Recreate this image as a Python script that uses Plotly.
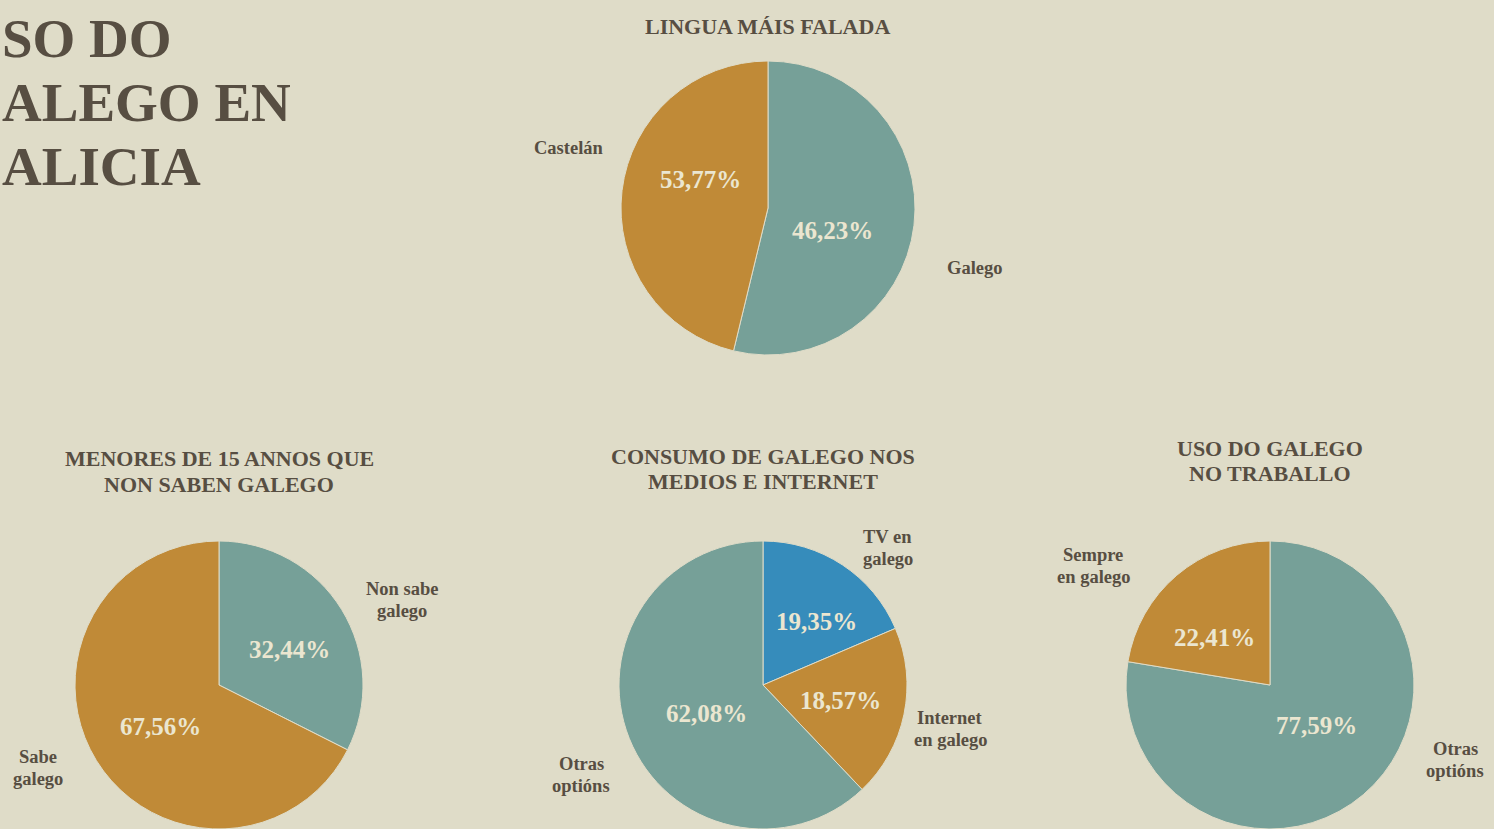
import plotly.graph_objects as go

W, H = 1494, 829
BG = "#dfdcc8"
TEAL = "#76a098"
GOLD = "#c08a37"
BLUE = "#368cbb"
INK = "#574e42"
LIGHT = "#ebe6d0"
FONT = "Liberation Serif"

# ---- data ----
main_title = ["SO DO", "ALEGO EN", "ALICIA"]

lingua_title = ["LINGUA MÁIS FALADA"]
lingua_labels = ["Galego", "Castelán"]
lingua_values = [53.77, 46.23]          # slice sizes as drawn
lingua_text = ["46,23%", "53,77%"]      # percentages as printed

menores_title = ["MENORES DE 15 ANNOS QUE", "NON SABEN GALEGO"]
menores_labels = ["Non sabe<br>galego", "Sabe<br>galego"]
menores_values = [32.44, 67.56]
menores_text = ["32,44%", "67,56%"]

consumo_title = ["CONSUMO DE GALEGO NOS", "MEDIOS E INTERNET"]
consumo_labels = ["TV en<br>galego", "Internet<br>en galego", "Otras<br>optións"]
consumo_values = [18.57, 19.35, 62.08]
consumo_text = ["19,35%", "18,57%", "62,08%"]

traballo_title = ["USO DO GALEGO", "NO TRABALLO"]
traballo_labels = ["Otras<br>optións", "Sempre<br>en galego"]
traballo_values = [77.59, 22.41]
traballo_text = ["77,59%", "22,41%"]

# ---- layout helpers (pixel geometry) ----
def px(x):
    return x / W

def py(y):
    return 1 - y / H

pies = [
    dict(labels=lingua_labels, values=lingua_values, text=lingua_text,
         colors=[TEAL, GOLD],
         center=(768, 208), R=147, title=lingua_title, title_y=[26],
         title_x=768,
         label_pos=[(975, 268), (569, 148)],
         pct_pos=[(832, 231), (700, 180)]),
    dict(labels=menores_labels, values=menores_values, text=menores_text,
         colors=[TEAL, GOLD],
         center=(219, 688), R=147, title=menores_title, title_y=[459, 484],
         title_x=219,
         label_pos=[(402, 600), (38, 768)],
         pct_pos=[(289, 649), (160, 726)]),
    dict(labels=consumo_labels, values=consumo_values, text=consumo_text,
         colors=[BLUE, GOLD, TEAL],
         center=(763, 688), R=147, title=consumo_title, title_y=[456, 481],
         title_x=763,
         label_pos=[(888, 548), (950, 729), (581, 775)],
         pct_pos=[(816, 621), (840, 700), (706, 713)]),
    dict(labels=traballo_labels, values=traballo_values, text=traballo_text,
         colors=[TEAL, GOLD],
         center=(1270, 688), R=147, title=traballo_title, title_y=[448, 473],
         title_x=1270,
         label_pos=[(1455, 760), (1093, 566)],
         pct_pos=[(1316, 725), (1214, 637)]),
]

LINE_GAP = 22  # px between the two lines of a category label

fig = go.Figure()
annotations = []

for p in pies:
    cx, cy = p["center"]
    R = p["R"]
    top = cy - R
    y1 = min(1.0, py(top))
    y0 = max(0.0, py(cy + R))
    r_eff = min(R, (y1 - y0) * H / 2)
    fig.add_trace(go.Pie(
        labels=[l.replace("<br>", " ") for l in p["labels"]],
        values=p["values"],
        sort=False,
        direction="clockwise",
        rotation=0,
        marker=dict(colors=p["colors"], line=dict(color=BG, width=1)),
        textinfo="none",
        hoverinfo="label",
        showlegend=False,
        domain=dict(x=[px(cx - r_eff), px(cx + r_eff)],
                    y=[py(top + 2 * r_eff), py(top)]),
    ))
    for line, ty in zip(p["title"], p["title_y"]):
        annotations.append(dict(
            text=f"<b>{line}</b>", x=px(p["title_x"]), y=py(ty),
            xref="paper", yref="paper",
            xanchor="center", yanchor="middle", showarrow=False, align="center",
            font=dict(family=FONT, size=22, color=INK),
        ))
    for lab, (lx, ly) in zip(p["labels"], p["label_pos"]):
        parts = lab.split("<br>")
        n = len(parts)
        for i, part in enumerate(parts):
            yy = ly + (i - (n - 1) / 2) * LINE_GAP
            annotations.append(dict(
                text=f"<b>{part}</b>", x=px(lx), y=py(yy), xref="paper", yref="paper",
                xanchor="center", yanchor="middle", showarrow=False, align="center",
                font=dict(family=FONT, size=18.5, color=INK),
            ))
    for t, (qx, qy) in zip(p["text"], p["pct_pos"]):
        annotations.append(dict(
            text=f"<b>{t}</b>", x=px(qx), y=py(qy), xref="paper", yref="paper",
            xanchor="center", yanchor="middle", showarrow=False,
            font=dict(family=FONT, size=25, color=LIGHT),
        ))

# main title (left edge of the original poster is cropped)
for line, ly in zip(main_title, [38, 102, 166]):
    annotations.append(dict(
        text=f"<b>{line}</b>", x=px(0), y=py(ly), xref="paper", yref="paper",
        xanchor="left", yanchor="middle", showarrow=False, align="left",
        font=dict(family=FONT, size=55, color=INK),
    ))

fig.update_layout(
    width=W, height=H,
    margin=dict(l=0, r=0, t=0, b=0),
    paper_bgcolor=BG, plot_bgcolor=BG,
    annotations=annotations,
    showlegend=False,
)

fig.write_html(
    "out.html",
    config={"displayModeBar": False},
    post_script="document.body.style.margin='0';document.body.style.overflow='hidden';",
)
